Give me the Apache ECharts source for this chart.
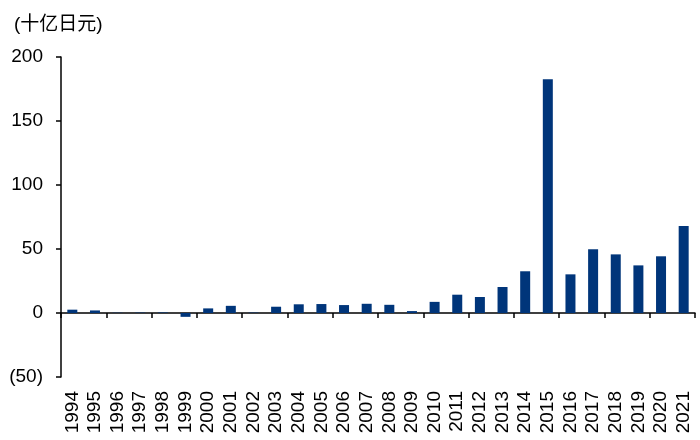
<!DOCTYPE html>
<html><head><meta charset="utf-8">
<script src="https://cdn.jsdelivr.net/npm/echarts@6/dist/echarts.min.js"></script>
<style>html,body{margin:0;padding:0;background:#fff}#c{width:700px;height:440px}</style>
</head><body><div id="c"></div>
<script>
var years = ['1994','1995','1996','1997','1998','1999','2000','2001','2002','2003','2004','2005','2006','2007','2008','2009','2010','2011','2012','2013','2014','2015','2016','2017','2018','2019','2020','2021'];
var values = [2.6,2.0,0.2,0.3,0.4,-3.0,3.6,5.6,0.3,4.9,6.8,7.0,6.2,7.2,6.4,1.5,8.7,14.3,12.5,20.3,32.6,182.6,30.2,49.8,45.8,37.2,44.3,68.0];
var unitLabel = '(十亿日元)';
var yTicks = {min:-50, max:200, interval:50};

var chart = echarts.init(document.getElementById('c'), null, {renderer:'canvas'});
var font = '"Liberation Sans", Arial, sans-serif';
chart.setOption({
  animation:false,
  title:{text:unitLabel,left:9,top:10,textStyle:{fontFamily:'"Liberation Sans", "Noto Sans CJK SC", sans-serif',fontSize:19,fontWeight:'normal',color:'#000'}},
  grid:{left:61,right:5,top:57,bottom:63,containLabel:false},
  xAxis:[{
    type:'category',data:years,position:'bottom',
    axisLine:{onZero:true,lineStyle:{color:'#000',width:1.5}},
    axisTick:{show:true,length:5,lineStyle:{color:'#000',width:1.5}},
    axisLabel:{show:false},splitLine:{show:false}
  },{
    type:'category',data:years,position:'bottom',offset:0,
    axisLine:{show:false,onZero:false},axisTick:{show:false},
    axisLabel:{rotate:90,interval:0,margin:14,fontFamily:font,fontSize:19,color:'#000'}
  }],
  yAxis:{
    type:'value',min:yTicks.min,max:yTicks.max,interval:yTicks.interval,
    axisLine:{show:true,lineStyle:{color:'#000',width:1.5}},
    axisTick:{show:true,inside:false,length:5,lineStyle:{color:'#000',width:1.5}},
    splitLine:{show:false},
    axisLabel:{margin:18,fontFamily:font,fontSize:19,color:'#000',
      formatter:function(v){return v<0?'('+(-v)+')':String(v);}}
  },
  series:[{type:'bar',xAxisIndex:0,data:values,barWidth:10,itemStyle:{color:'#00357a'}}]
});
</script></body></html>
